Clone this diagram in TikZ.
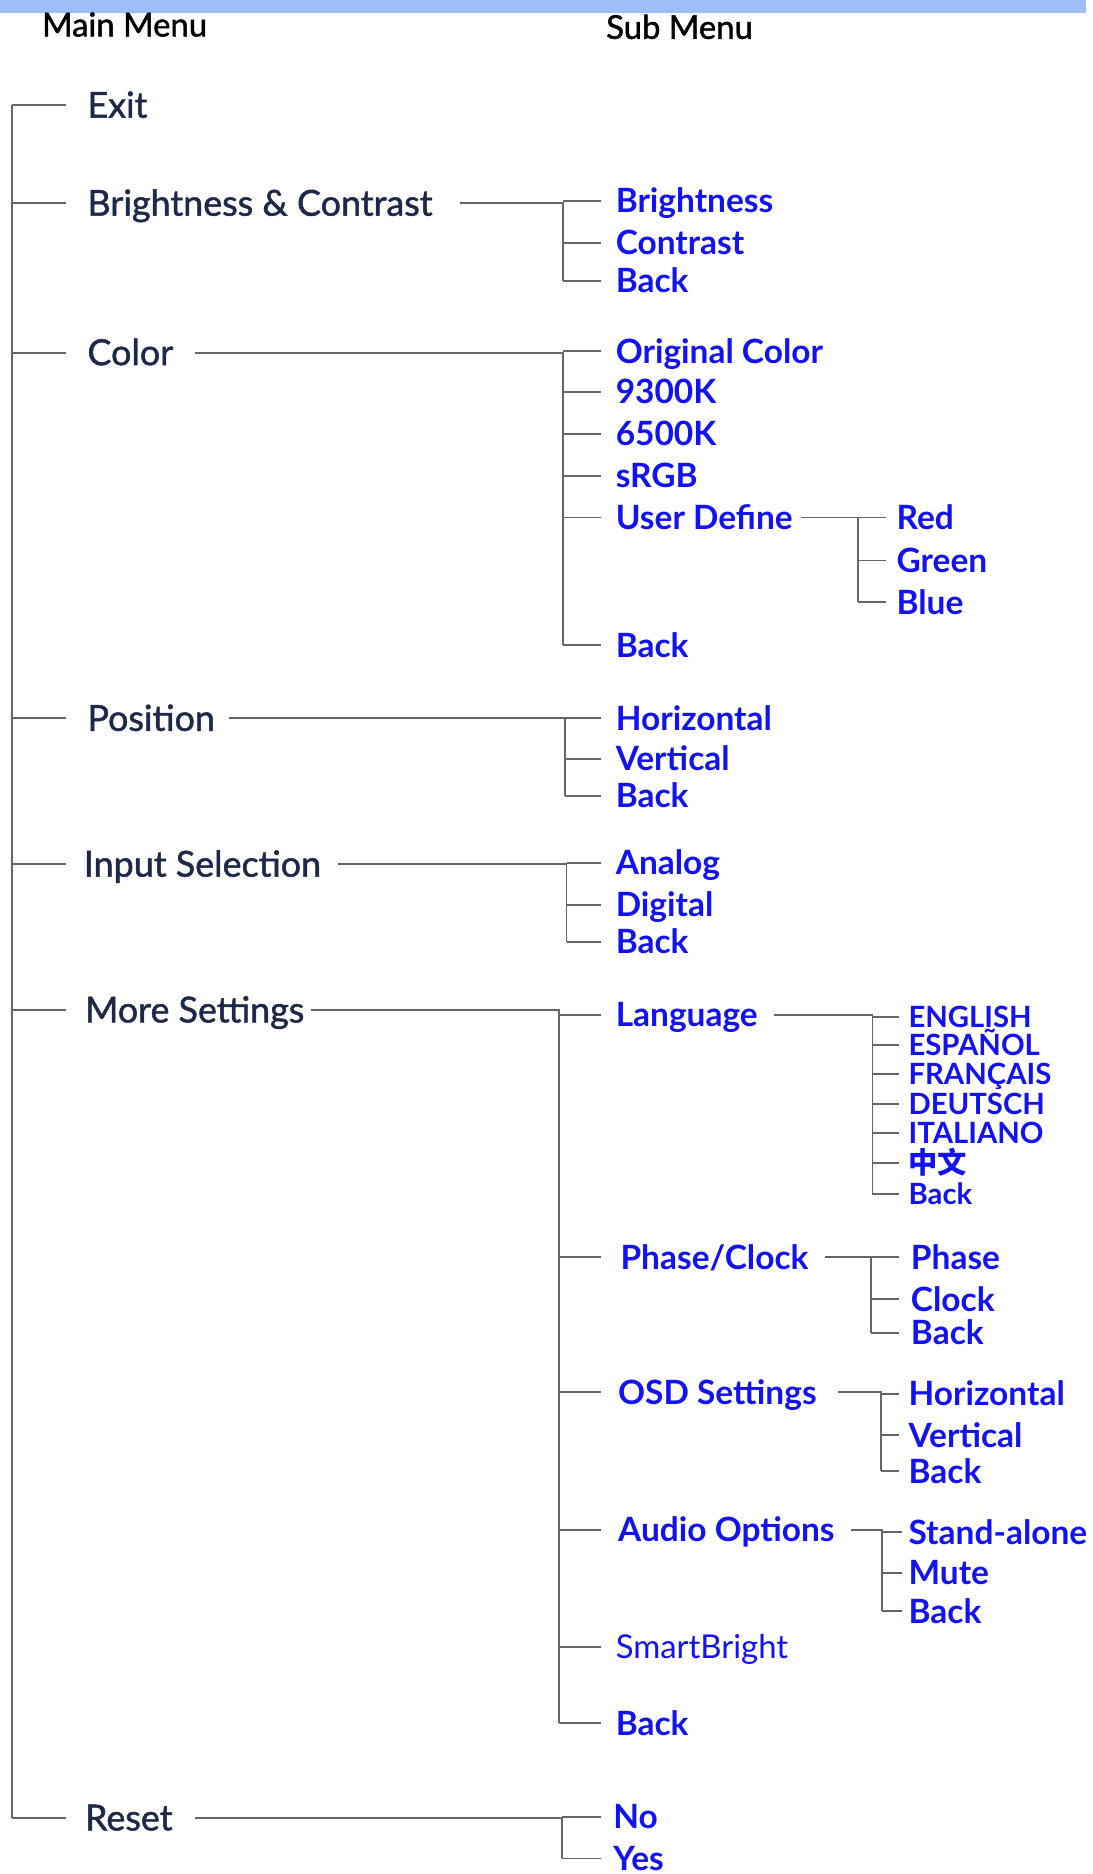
\documentclass[tikz,border=0pt]{standalone}
\usepackage{fontspec}
\setmainfont{Lato}
\newfontfamily\medfont[FakeBold=1.3]{Lato}
\newfontfamily\cjk{Noto Sans CJK SC}
\definecolor{navy}{HTML}{1E2848}
\definecolor{subblue}{HTML}{1212F2}
\definecolor{topbar}{HTML}{9DBEF8}
\definecolor{lngray}{HTML}{666666}
\newcommand\mybranch[6]{%
  \draw[conn] (#2 |- #1.east) -- (#3 |- #1.east) -- (#3 |- #5.west);
  \foreach \c in {#6} \draw[conn] (#3 |- \c.west) -- (#4 |- \c.west);
}
\begin{document}
\begin{tikzpicture}[x=1pt,y=-1pt,
  conn/.style={draw=lngray, line width=1.6pt},
  hdr/.style={anchor=west, inner sep=0pt, text height=19pt, text depth=0pt, font=\medfont\fontsize{27.5}{30}\selectfont, text=black},
  mainitem/.style={anchor=west, inner sep=0pt, text height=21pt, text depth=0pt, font=\medfont\fontsize{30}{32}\selectfont, text=navy},
  subitem/.style={anchor=west, inner sep=0pt, text height=20pt, text depth=0pt, font=\bfseries\fontsize{28}{30}\selectfont, text=subblue},
  thinitem/.style={anchor=west, inner sep=0pt, text height=19.5pt, text depth=0pt, font=\fontsize{27.5}{30}\selectfont, text=subblue},
  langitem/.style={anchor=west, inner sep=0pt, text height=17.5pt, text depth=0pt, font=\bfseries\fontsize{24.5}{26}\selectfont, text=subblue},
]
\useasboundingbox (0,0) rectangle (914,1568);
\fill[white] (0,0) rectangle (914,1568);
\fill[topbar] (0,0) rectangle (909,11);

% headers
\node[hdr] (hMain) at (35,21) {Main Menu};
\node[hdr] (hSub) at (507,23) {Sub Menu};

% main menu
\node[mainitem] (exit) at (73,88) {Exit};
\node[mainitem] (bc) at (73,170) {Brightness \& Contrast};
\node[mainitem] (color) at (73,295) {Color};
\node[mainitem] (pos) at (73,601) {Position};
\node[mainitem] (inp) at (70,723) {Input Selection};
\node[mainitem] (more) at (71,845) {More Settings};
\node[mainitem] (reset) at (71,1521) {Reset};

% brightness & contrast
\node[subitem] (bcA) at (515,168) {Brightness};
\node[subitem] (bcB) at (515,203) {Contrast};
\node[subitem] (bcC) at (515,235) {Back};

% color
\node[subitem] (coA) at (515,294) {Original Color};
\node[subitem] (coB) at (515,328) {9300K};
\node[subitem] (coC) at (515,363) {6500K};
\node[subitem] (coD) at (515,398) {sRGB};
\node[subitem] (coE) at (515,433) {User Define};
\node[subitem] (coF) at (515,540) {Back};
\node[subitem] (udA) at (750,433) {Red};
\node[subitem] (udB) at (750,469) {Green};
\node[subitem] (udC) at (750,504) {Blue};

% position
\node[subitem] (poA) at (515,601) {Horizontal};
\node[subitem] (poB) at (515,635) {Vertical};
\node[subitem] (poC) at (515,666) {Back};

% input selection
\node[subitem] (inA) at (515,722) {Analog};
\node[subitem] (inB) at (515,757) {Digital};
\node[subitem] (inC) at (515,788) {Back};

% more settings
\node[subitem] (moA) at (515,849) {Language};
\node[subitem] (moB) at (519,1052) {Phase/Clock};
\node[subitem] (moC) at (517,1165) {OSD Settings};
\node[subitem] (moD) at (517,1280) {Audio Options};
\node[thinitem] (moE) at (515,1378) {SmartBright};
\node[subitem] (moF) at (515,1442) {Back};

\node[langitem] (laA) at (760,851) {ENGLISH};
\node[langitem] (laB) at (760,874) {ESPAÑOL};
\node[langitem] (laC) at (760,899) {FRANÇAIS};
\node[langitem] (laD) at (760,924) {DEUTSCH};
\node[langitem] (laE) at (760,948) {ITALIANO};
\node[langitem] (laF) at (760,973) {\cjk 中文};
\node[langitem] (laG) at (760,999) {Back};

\node[subitem] (phA) at (762,1052) {Phase};
\node[subitem] (phB) at (762,1087) {Clock};
\node[subitem] (phC) at (762,1115) {Back};

\node[subitem] (osA) at (760,1166) {Horizontal};
\node[subitem] (osB) at (760,1201) {Vertical};
\node[subitem] (osC) at (760,1231) {Back};

\node[subitem] (auA) at (760,1282) {Stand-alone};
\node[subitem] (auB) at (760,1316) {Mute};
\node[subitem] (auC) at (760,1348) {Back};

% reset
\node[subitem] (reA) at (513,1520) {No};
\node[subitem] (reB) at (513,1555) {Yes};

% coordinates for connector columns
\coordinate (trunk) at (10,0);
\coordinate (tMain) at (55,0);
\coordinate (tSub) at (503,0);
\coordinate (sBC) at (385,0);   \coordinate (jBC) at (471,0);
\coordinate (sCO) at (163,0);   \coordinate (jCO) at (471,0);
\coordinate (sUD) at (670,0);   \coordinate (jUD) at (718,0);  \coordinate (tUD) at (741,0);
\coordinate (sPO) at (192,0);   \coordinate (jPO) at (473,0);
\coordinate (sIN) at (283,0);   \coordinate (jIN) at (474,0);
\coordinate (sMO) at (260,0);   \coordinate (jMO) at (468,0);
\coordinate (sLA) at (648,0);   \coordinate (jLA) at (730,0);  \coordinate (tLA) at (752,0);
\coordinate (sPH) at (690,0);   \coordinate (jPH) at (729,0);  \coordinate (tPH) at (752,0);
\coordinate (sOS) at (701,0);   \coordinate (jOS) at (737,0);  \coordinate (tOS) at (752,0);
\coordinate (sAU) at (712,0);   \coordinate (jAU) at (738,0);  \coordinate (tAU) at (755,0);
\coordinate (sRE) at (163,0);   \coordinate (jRE) at (470,0);

% main trunk
\draw[conn] (trunk |- exit.west) -- (trunk |- reset.west);
\foreach \m in {exit,bc,color,pos,inp,more,reset}
  \draw[conn] (trunk |- \m.west) -- (tMain |- \m.west);

% branches
\mybranch{bc}{sBC}{jBC}{tSub}{bcC}{bcA,bcB,bcC}
\mybranch{color}{sCO}{jCO}{tSub}{coF}{coA,coB,coC,coD,coE,coF}
\mybranch{coE}{sUD}{jUD}{tUD}{udC}{udA,udB,udC}
\mybranch{pos}{sPO}{jPO}{tSub}{poC}{poA,poB,poC}
\mybranch{inp}{sIN}{jIN}{tSub}{inC}{inA,inB,inC}
\mybranch{more}{sMO}{jMO}{tSub}{moF}{moA,moB,moC,moD,moE,moF}
\mybranch{moA}{sLA}{jLA}{tLA}{laG}{laA,laB,laC,laD,laE,laF,laG}
\mybranch{moB}{sPH}{jPH}{tPH}{phC}{phA,phB,phC}
\mybranch{moC}{sOS}{jOS}{tOS}{osC}{osA,osB,osC}
\mybranch{moD}{sAU}{jAU}{tAU}{auC}{auA,auB,auC}
\mybranch{reset}{sRE}{jRE}{tSub}{reB}{reA,reB}
\end{tikzpicture}
\end{document}
